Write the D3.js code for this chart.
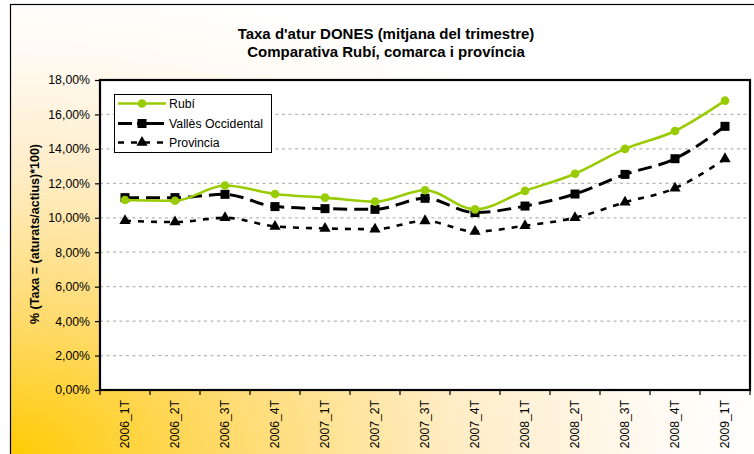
<!DOCTYPE html>
<html><head><meta charset="utf-8">
<script src="https://cdn.jsdelivr.net/npm/d3@7"></script>
<style>html,body{margin:0;padding:0;background:#fff;}svg{display:block;font-family:"Liberation Sans",Arial,sans-serif;}</style>
</head><body>
<svg id="c" width="754" height="454"></svg>
<script>
const categories = ["2006_1T","2006_2T","2006_3T","2006_4T","2007_1T","2007_2T","2007_3T","2007_4T","2008_1T","2008_2T","2008_3T","2008_4T","2009_1T"];
const rubi =    [11.03,10.99,11.87,11.38,11.17,10.94,11.60,10.49,11.56,12.56,14.00,15.04,16.80];
const valles =  [11.17,11.17,11.36,10.65,10.53,10.49,11.13,10.30,10.68,11.38,12.52,13.43,15.31];
const provincia=[9.83,9.75,10.00,9.50,9.38,9.34,9.82,9.20,9.54,10.00,10.90,11.72,13.42];
const yTicks = [0,2,4,6,8,10,12,14,16,18];
const titleLines = ["Taxa d'atur DONES (mitjana del trimestre)","Comparativa Rubí, comarca i província"];
const yLabel = "% (Taxa = (aturats/actius)*100)";
const seriesNames = ["Rubí","Vallès Occidental","Provincia"];

const svg = d3.select("#c");
const defs = svg.append("defs");
const g = defs.append("radialGradient").attr("id","bg").attr("gradientUnits","userSpaceOnUse")
  .attr("cx",10).attr("cy",454).attr("r",760)
  .attr("gradientTransform","translate(10,454) scale(1,0.62) translate(-10,-454)");
[[0,"#FFCB05"],[0.3,"#FFDB70"],[0.6,"#FFEDC8"],[0.85,"#FFFAF2"],[1,"#FFFFFF"]].forEach(s=>g.append("stop").attr("offset",s[0]).attr("stop-color",s[1]));
svg.append("rect").attr("x",10.5).attr("y",4.5).attr("width",760).attr("height",460).attr("fill","url(#bg)").attr("stroke","#000").attr("stroke-width",1.2);

const L=100,R=750,T=80,B=390;
const x = d3.scaleBand().domain(categories).range([L,R]);
const y = d3.scaleLinear().domain([0,18]).range([B,T]);
const loc = d3.formatLocale({decimal:",",thousands:".",grouping:[3],currency:["","€"]});
const fmt = v => loc.format(".2f")(v)+"%";

svg.append("rect").attr("x",L).attr("y",T).attr("width",R-L).attr("height",B-T).attr("fill","#fff");

// gridlines
svg.append("g").selectAll("line").data(yTicks.filter(v=>v>0&&v<18)).join("line")
  .attr("x1",L).attr("x2",R).attr("y1",d=>y(d)).attr("y2",d=>y(d))
  .attr("stroke","#b8b8b8").attr("stroke-width",1.3).attr("stroke-dasharray","3,3.5");

// y axis
const ya = svg.append("g").attr("transform",`translate(${L},0)`)
  .call(d3.axisLeft(y).tickValues(yTicks).tickFormat(fmt).tickSize(5).tickSizeOuter(0));
ya.select(".domain").remove();
ya.selectAll("line").attr("stroke","#000").attr("stroke-width",1.2);
ya.selectAll("text").attr("font-size",12.3).attr("fill","#000").attr("dx",-2).attr("font-family","Liberation Sans, Arial, sans-serif");

// x axis
const xa = svg.append("g").attr("transform",`translate(0,${B})`)
  .call(d3.axisBottom(x).tickSize(0).tickSizeOuter(0));
xa.select(".domain").remove();
xa.selectAll("text").attr("font-size",12.2).attr("fill","#000").attr("font-family","Liberation Sans, Arial, sans-serif")
  .attr("transform","rotate(-90)").attr("text-anchor","end").attr("x",-10).attr("y",0).attr("dy","0.35em");
svg.append("g").selectAll("line").data(d3.range(categories.length+1)).join("line")
  .attr("x1",i=>L+i*x.step()).attr("x2",i=>L+i*x.step()).attr("y1",B).attr("y2",B+5)
  .attr("stroke","#000").attr("stroke-width",1.2);

// plot border
svg.append("rect").attr("x",L).attr("y",T).attr("width",R-L).attr("height",B-T).attr("fill","none").attr("stroke","#000").attr("stroke-width",2.2);

const cx = (d,i)=>x(categories[i])+x.bandwidth()/2;
const line = d3.line().x(cx).y(d=>y(d)).curve(d3.curveMonotoneX);
const tri = d3.symbol().type(d3.symbolTriangle).size(55);

// Provincia
svg.append("path").attr("d",line(provincia)).attr("fill","none").attr("stroke","#000").attr("stroke-width",2.6).attr("stroke-dasharray","6,7");
svg.append("g").selectAll("path").data(provincia).join("path").attr("d",tri())
  .attr("transform",(d,i)=>`translate(${cx(d,i)},${y(d)})`).attr("fill","#000");
// Vallès
svg.append("path").attr("d",line(valles)).attr("fill","none").attr("stroke","#000").attr("stroke-width",3).attr("stroke-dasharray","14,7");
svg.append("g").selectAll("rect").data(valles).join("rect")
  .attr("x",(d,i)=>cx(d,i)-4.5).attr("y",d=>y(d)-4.5).attr("width",9).attr("height",9).attr("fill","#000");
// Rubí
svg.append("path").attr("d",line(rubi)).attr("fill","none").attr("stroke","#99CC00").attr("stroke-width",2.6);
svg.append("g").selectAll("circle").data(rubi).join("circle")
  .attr("cx",cx).attr("cy",d=>y(d)).attr("r",4.3).attr("fill","#99CC00");

// legend
const lg = svg.append("g");
lg.append("rect").attr("x",114.5).attr("y",94.5).attr("width",157).attr("height",58).attr("fill","#fff").attr("stroke","#000").attr("stroke-width",1);
const rows=[103.5,123.5,142.5];
lg.append("line").attr("x1",118).attr("x2",166).attr("y1",rows[0]).attr("y2",rows[0]).attr("stroke","#99CC00").attr("stroke-width",2.6);
lg.append("circle").attr("cx",142).attr("cy",rows[0]).attr("r",4.3).attr("fill","#99CC00");
lg.append("line").attr("x1",118).attr("x2",164).attr("y1",rows[1]).attr("y2",rows[1]).attr("stroke","#000").attr("stroke-width",3).attr("stroke-dasharray","14,5,30");
lg.append("rect").attr("x",137.5).attr("y",rows[1]-4.5).attr("width",9).attr("height",9).attr("fill","#000");
lg.append("line").attr("x1",118).attr("x2",166).attr("y1",rows[2]).attr("y2",rows[2]).attr("stroke","#000").attr("stroke-width",2.6).attr("stroke-dasharray","6,7");
lg.append("path").attr("d",tri()).attr("transform",`translate(142,${rows[2]})`).attr("fill","#000");
lg.selectAll("text.l").data(seriesNames).join("text").attr("class","l")
  .attr("x",169).attr("y",(d,i)=>rows[i]).attr("dy","0.35em").attr("font-size",12.3).text(d=>d);

// titles
svg.selectAll("text.t").data(titleLines).join("text").attr("class","t")
  .attr("x",386).attr("y",(d,i)=>39+i*17.5).attr("text-anchor","middle").attr("font-weight","bold").attr("font-size",15).text(d=>d);
svg.append("text").attr("transform",`translate(35,${(T+B)/2-1}) rotate(-90)`).attr("text-anchor","middle").attr("dy","0.35em")
  .attr("font-weight","bold").attr("font-size",12.5).text(yLabel);
</script>
</body></html>
